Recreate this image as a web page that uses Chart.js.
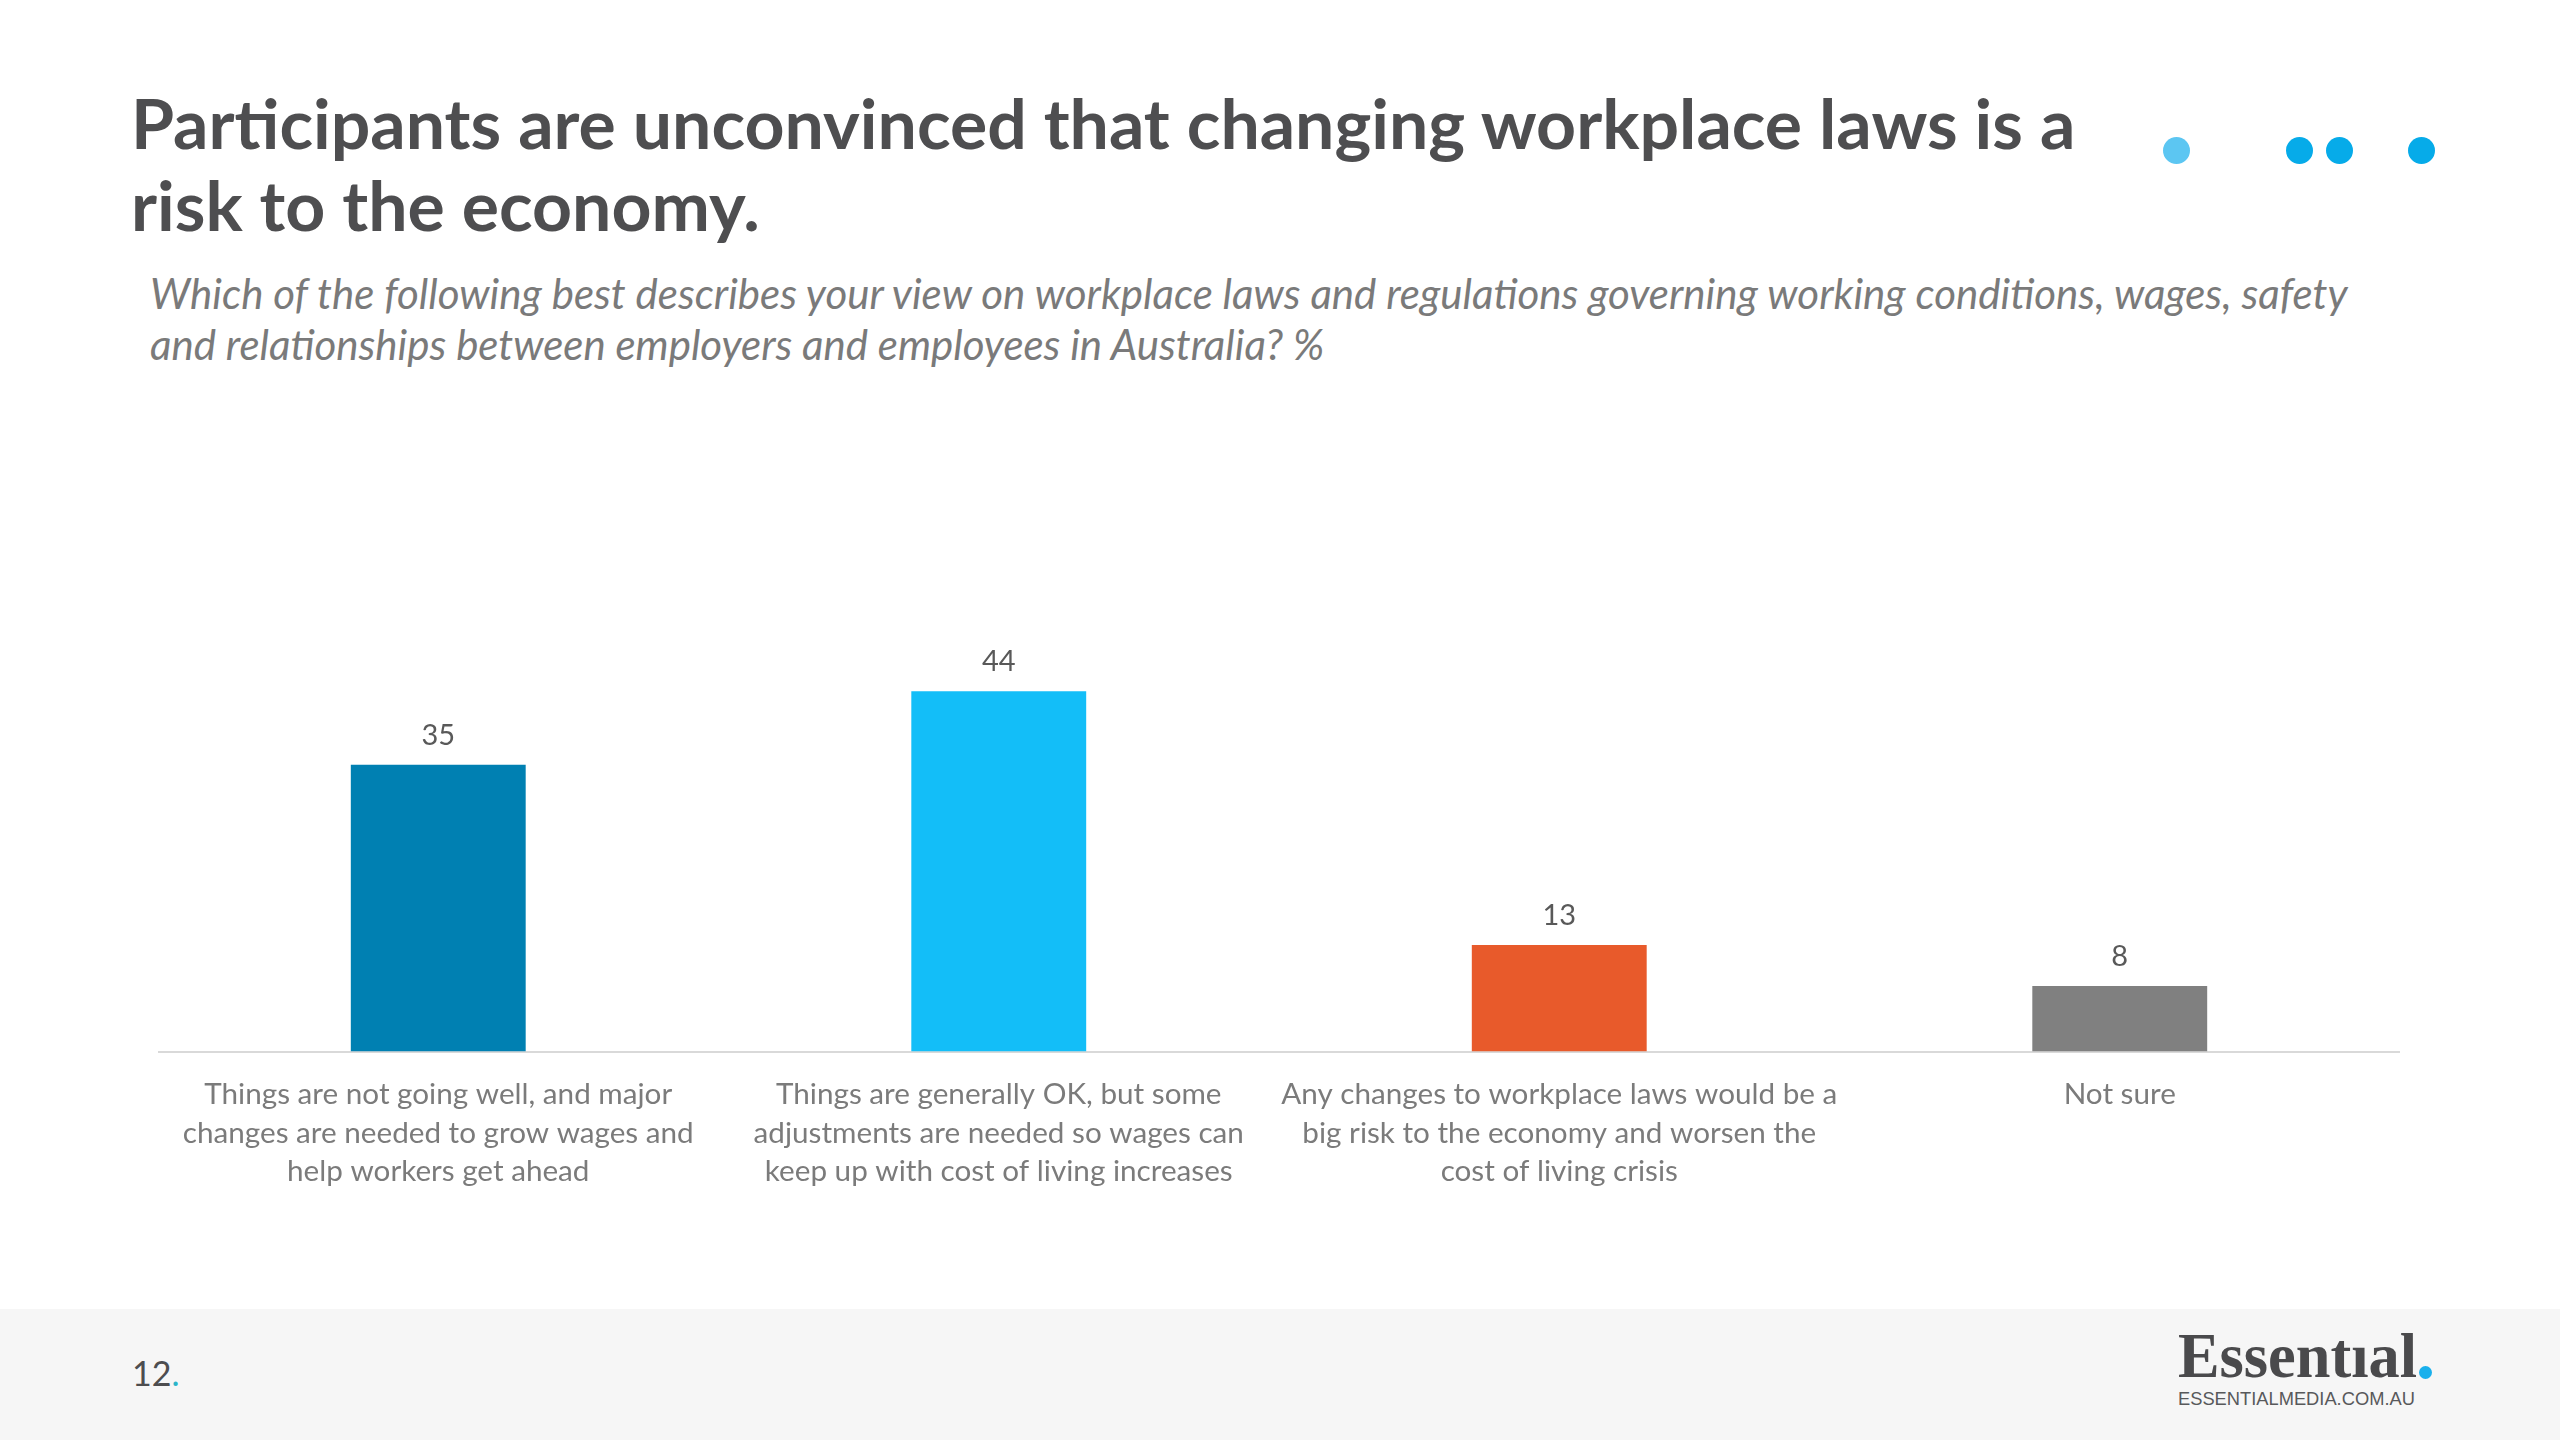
<!DOCTYPE html>
<html><head><meta charset="utf-8">
<script src="https://cdn.jsdelivr.net/npm/chart.js@4.4.1/dist/chart.umd.min.js"></script>
<style>
html,body{margin:0;padding:0;background:#fff;}
body{width:2560px;height:1440px;position:relative;overflow:hidden;font-family:Lato,sans-serif;}
#title{position:absolute;left:131px;top:81px;line-height:82px;font-weight:700;color:#4e4e50;white-space:nowrap;}
#sub{position:absolute;left:150px;top:268px;line-height:51px;font-style:italic;color:#7a7a7a;white-space:nowrap;}
.dot{position:absolute;border-radius:50%;width:27px;height:27px;}
#footer{position:absolute;left:0;top:1309px;width:2560px;height:131px;background:#f6f6f6;}
#page{position:absolute;left:132px;top:1350px;line-height:46px;color:#4d4d4f;white-space:nowrap;}
#page span{color:#2bb5c9;}
#logo{position:absolute;left:2178px;top:1326px;font-family:"Liberation Serif",serif;font-weight:700;color:#4a4a4c;white-space:nowrap;line-height:60px;}
#logodot{position:absolute;left:2419px;top:1366px;width:13px;height:13px;border-radius:50%;background:#1ab0ec;}
#url{position:absolute;left:2178px;top:1388px;font-family:"Liberation Sans",sans-serif;color:#58595b;white-space:nowrap;line-height:22px;}
#chartbox{position:absolute;left:158px;top:642px;width:2242px;height:573px;}
</style>
</head><body>
<div id="title">Participants are unconvinced that changing workplace laws is a<br>risk to the economy.</div>
<div id="sub">Which of the following best describes your view on workplace laws and regulations governing working conditions, wages, safety<br>and relationships between employers and employees in Australia? %</div>
<div class="dot" style="left:2163px;top:137px;background:#5cc6f2;"></div>
<div class="dot" style="left:2286px;top:137px;background:#06abe9;"></div>
<div class="dot" style="left:2326px;top:137px;background:#06abe9;"></div>
<div class="dot" style="left:2408px;top:137px;background:#06abe9;"></div>
<div id="footer"></div>
<div id="page">12<span>.</span></div>
<div id="logo">Essentıal</div>
<div id="logodot"></div>
<div id="url">ESSENTIALMEDIA.COM.AU</div>
<div id="chartbox"><canvas id="c"></canvas></div>
<script>
const categories = [
  ["Things are not going well, and major", "changes are needed to grow wages and", "help workers get ahead"],
  ["Things are generally OK, but some", "adjustments are needed so wages can", "keep up with cost of living increases"],
  ["Any changes to workplace laws would be a", "big risk to the economy and worsen the", "cost of living crisis"],
  ["Not sure"]
];
const values = [35, 44, 13, 8];
const barColors = ['#0080B2', '#13BEF8', '#E85A2B', '#808080'];

function fitSize(text, font, target) {
  const c = document.createElement('canvas').getContext('2d');
  c.font = font.replace('SIZE', '100px');
  return 100 * target / c.measureText(text).width;
}
const titleSize = fitSize("Participants are unconvinced that changing workplace laws is a", "bold SIZE Lato", 1946);
document.getElementById('title').style.fontSize = titleSize + 'px';
const subSize = fitSize("Which of the following best describes your view on workplace laws and regulations governing working conditions, wages, safety", "italic SIZE Lato", 2204);
document.getElementById('sub').style.fontSize = subSize + 'px';
document.getElementById('logo').style.fontSize = fitSize("Essentıal", "bold SIZE 'Liberation Serif'", 239) + 'px';
document.getElementById('url').style.fontSize = fitSize("ESSENTIALMEDIA.COM.AU", "SIZE 'Liberation Sans'", 237) + 'px';
document.getElementById('page').style.fontSize = '34px';
const tickSize = fitSize("changes are needed to grow wages and", "SIZE Lato", 511);

Chart.defaults.font.family = 'Lato';
const valueLabels = {
  id: 'valueLabels',
  afterDatasetsDraw(chart) {
    const ctx = chart.ctx;
    const meta = chart.getDatasetMeta(0);
    ctx.save();
    ctx.font = '29px Lato';
    ctx.fillStyle = '#595959';
    ctx.textAlign = 'center';
    ctx.textBaseline = 'middle';
    meta.data.forEach((bar, i) => {
      ctx.fillText(String(values[i]), bar.x, bar.y - 29);
    });
    ctx.restore();
  }
};

new Chart(document.getElementById('c'), {
  type: 'bar',
  data: {
    labels: categories,
    datasets: [{
      data: values,
      backgroundColor: barColors,
      borderWidth: 0,
      categoryPercentage: 1,
      barPercentage: 0.312
    }]
  },
  options: {
    responsive: true,
    maintainAspectRatio: false,
    animation: false,
    layout: { padding: 0 },
    plugins: { legend: { display: false }, tooltip: { enabled: false } },
    scales: {
      y: { display: false, min: 0, max: 50 },
      x: {
        grid: { display: false, drawTicks: false, tickLength: 0 },
        border: { display: true, color: '#d9d9d9', width: 2 },
        ticks: {
          color: '#7b7b7b',
          padding: 24,
          maxRotation: 0,
          autoSkip: false,
          font: { size: tickSize, lineHeight: 38.5 / tickSize }
        }
      }
    }
  },
  plugins: [valueLabels]
});
</script>
</body></html>
